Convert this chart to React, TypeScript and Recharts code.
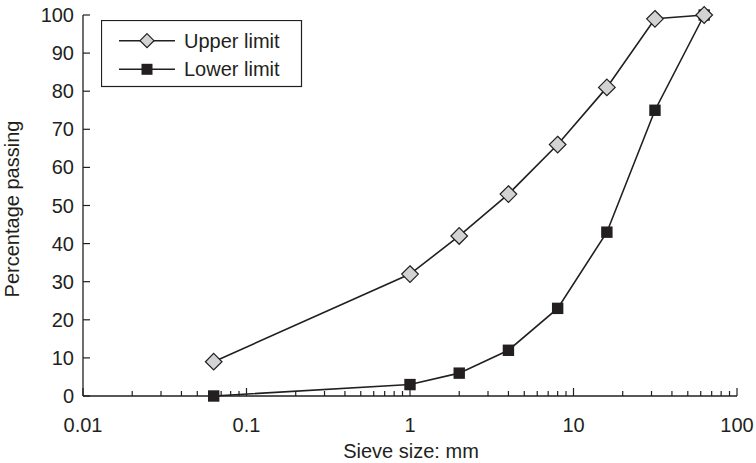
import { Line, LineChart, XAxis, YAxis, Legend, Label } from "recharts"

const sieveSizes = [0.063, 1, 2, 4, 8, 16, 31.5, 63]
const upperLimit = [9, 32, 42, 53, 66, 81, 99, 100]
const lowerLimit = [0, 3, 6, 12, 23, 43, 75, 100]

const majorTicks = [0.01, 0.1, 1, 10, 100]
const minorSteps = [2, 3, 4, 5, 6, 7, 8, 9]
const yTicks = [0, 10, 20, 30, 40, 50, 60, 70, 80, 90, 100]

const xTicks = [
  ...majorTicks,
  ...majorTicks.slice(0, -1).flatMap((d) => minorSteps.map((m) => d * m)),
]

const data = sieveSizes.map((size, i) => ({
  size,
  upper: upperLimit[i],
  lower: lowerLimit[i],
}))

const ink = "#231f20"
const grey = "#d1d3d4"
const font = "'Liberation Sans', Arial, Helvetica, sans-serif"

// page has the default 8px body margin; drop it so the chart sits at 0,0
if (typeof document !== "undefined") document.body.style.margin = "0"

const isMajor = (v: number) => majorTicks.some((m) => Math.abs(v - m) / m < 1e-6)

function XTick({ x, y, payload }: any) {
  const major = isMajor(payload.value)
  return (
    <g>
      <line x1={x} x2={x} y1={y} y2={y - (major ? 8 : 5)} stroke={ink} strokeWidth={1.2} />
      {major && (
        <text x={x} y={y + 36} textAnchor="middle" fontSize={20} fontFamily={font} fill={ink}>
          {String(payload.value)}
        </text>
      )}
    </g>
  )
}

function YTick({ x, y, payload }: any) {
  return (
    <g>
      <line x1={x} x2={x + 7} y1={y} y2={y} stroke={ink} strokeWidth={1.2} />
      <text x={x - 9} y={y + 7} textAnchor="end" fontSize={20} fontFamily={font} fill={ink}>
        {payload.value}
      </text>
    </g>
  )
}

function diamondPath(cx: number, cy: number, r: number) {
  return `M${cx},${cy - r}L${cx + r},${cy}L${cx},${cy + r}L${cx - r},${cy}Z`
}

function DiamondDot(props: any) {
  const { cx, cy, index } = props
  return (
    <path key={`d${index}`} d={diamondPath(cx, cy, 8.3)} fill={grey} stroke={ink} strokeWidth={1.2} />
  )
}

function SquareDot(props: any) {
  const { cx, cy, index } = props
  return <rect key={`s${index}`} x={cx - 5.7} y={cy - 5.7} width={11.4} height={11.4} fill={ink} />
}

function LegendBox() {
  return (
    <svg width={202} height={68} style={{ display: "block" }}>
      <rect x={0.5} y={0.5} width={200} height={66} fill="#fff" stroke={ink} strokeWidth={1.2} />
      <line x1={18} x2={74} y1={20.7} y2={20.7} stroke={ink} strokeWidth={1.5} />
      <path d={diamondPath(46, 20.7, 7)} fill={grey} stroke={ink} strokeWidth={1.2} />
      <text x={83} y={27.5} fontSize={20} fontFamily={font} fill={ink}>
        Upper limit
      </text>
      <line x1={18} x2={74} y1={49.3} y2={49.3} stroke={ink} strokeWidth={1.5} />
      <rect x={40.5} y={43.8} width={11} height={11} fill={ink} />
      <text x={83} y={56} fontSize={20} fontFamily={font} fill={ink}>
        Lower limit
      </text>
    </svg>
  )
}

export default function App() {
  return (
    <div style={{ width: 756, height: 463, background: "#fff" }}>
      <LineChart
        width={756}
        height={463}
        data={data}
        margin={{ top: 15, right: 19, left: 23, bottom: 0 }}
      >
        <XAxis
          dataKey="size"
          type="number"
          scale="log"
          domain={[0.01, 100]}
          ticks={xTicks}
          interval={0}
          tickSize={0}
          tickMargin={0}
          tickLine={false}
          tick={<XTick />}
          height={67}
          axisLine={{ stroke: ink, strokeWidth: 1.3 }}
        >
          <Label
            content={() => (
              <text x={411} y={458} textAnchor="middle" fontSize={20} fontFamily={font} fill={ink}>
                Sieve size: mm
              </text>
            )}
          />
        </XAxis>
        <YAxis
          type="number"
          domain={[0, 100]}
          ticks={yTicks}
          interval={0}
          tickSize={0}
          tickMargin={0}
          tickLine={false}
          tick={<YTick />}
          width={60}
          axisLine={{ stroke: ink, strokeWidth: 1.3 }}
        >
          <Label
            content={() => (
              <text
                transform="translate(19,209) rotate(-90)"
                textAnchor="middle"
                fontSize={20}
                fontFamily={font}
                fill={ink}
              >
                Percentage passing
              </text>
            )}
          />
        </YAxis>
        <Legend
          layout="vertical"
          align="center"
          verticalAlign="middle"
          wrapperStyle={{ left: 101, top: 20, width: 202, height: 68 }}
          content={() => <LegendBox />}
        />
        <Line
          dataKey="lower"
          type="linear"
          stroke={ink}
          strokeWidth={1.6}
          dot={SquareDot}
          activeDot={false}
          isAnimationActive={false}
        />
        <Line
          dataKey="upper"
          type="linear"
          stroke={ink}
          strokeWidth={1.6}
          dot={DiamondDot}
          activeDot={false}
          isAnimationActive={false}
        />
      </LineChart>
    </div>
  )
}
